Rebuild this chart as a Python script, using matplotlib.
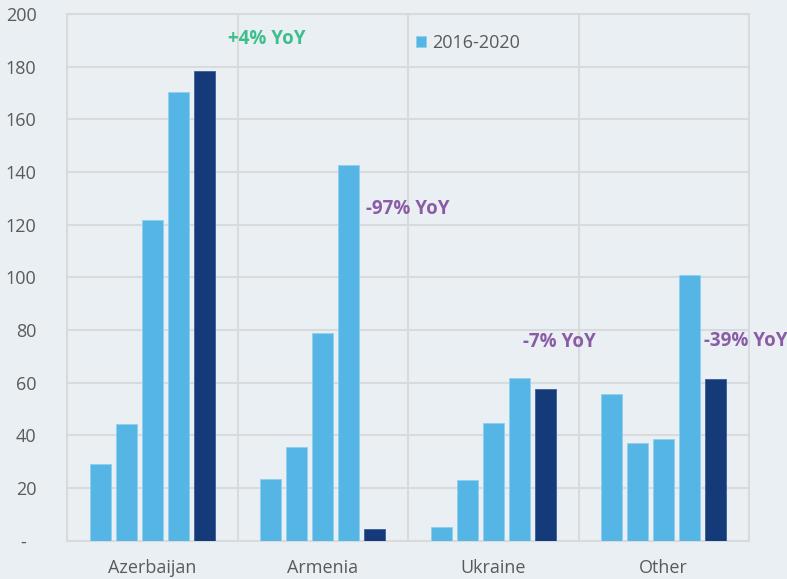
import matplotlib
matplotlib.use("Agg")
import matplotlib.pyplot as plt
import numpy as np

categories = ["Azerbaijan", "Armenia", "Ukraine", "Other"]
# Four light-blue bars (2016-2020) and one dark bar (latest year) per group
v2016 = [29, 23.3, 5.1, 55.7]
v2017 = [44.4, 35.4, 22.9, 37.0]
v2018 = [121.8, 78.9, 44.7, 38.5]
v2019 = [170.5, 142.7, 61.8, 100.9]
v2021 = [178.2, 4.2, 57.6, 61.4]

legend_label = "2016-2020"
yoy_labels = ["+4% YoY", "-97% YoY", "-7% YoY", "-39% YoY"]
yoy_colors = ["#3DBF8C", "#8A5CA6", "#8A5CA6", "#8A5CA6"]
yoy_pos = [(0.444, 190.5), (1.254, 126.0), (2.174, 75.4), (3.236, 75.8)]

yticks = [0, 20, 40, 60, 80, 100, 120, 140, 160, 180, 200]
ytick_labels = ["-  "] + [str(t) for t in yticks[1:]]

plt.rcParams['font.family'] = ['Open Sans', 'DejaVu Sans']

bg = "#E9EFF2"
light = "#55B6E6"
dark = "#143A7A"
grid = "#D8DADB"
txt = "#5A5A5A"

fig = plt.figure(figsize=(7.87, 5.79), dpi=100, facecolor=bg)
ax = fig.add_axes([67/787, (579-540.5)/579, (749-67)/787, (540.5-14)/579])
ax.set_facecolor(bg)

x = np.arange(len(categories))
step = 0.1525
w = 0.123
series = [v2016, v2017, v2018, v2019]
for i, s in enumerate(series):
    ax.bar(x + (i - 2) * step, s, width=w, color=light, edgecolor="#8FD0EE",
           linewidth=0.6, zorder=3, label=legend_label if i == 0 else None)
ax.bar(x + 2 * step, v2021, width=w, color=dark, edgecolor="#3D5E94",
       linewidth=0.6, zorder=3)

ax.set_xlim(-0.5, 3.5)
ax.set_ylim(0, 200)
ax.set_yticks(yticks)
ax.set_yticklabels(ytick_labels)
ax.set_xticks(x)
ax.set_xticklabels(categories)
ax.tick_params(axis='both', length=0, labelsize=13, colors=txt)
ax.tick_params(axis='y', pad=22)
ax.tick_params(axis='x', pad=13)

ax.yaxis.grid(True, color=grid, linewidth=1.5, zorder=0)
for b in [0.5, 1.5, 2.5]:
    ax.axvline(b, color=grid, linewidth=1.5, zorder=0)
for sp in ax.spines.values():
    sp.set_color(grid)
    sp.set_linewidth(1.5)

for lab, col, (px, py) in zip(yoy_labels, yoy_colors, yoy_pos):
    ax.text(px, py, lab, color=col, fontsize=13.5, fontweight='bold',
            ha='left', va='center', clip_on=False, zorder=5)

leg = ax.legend(loc='upper left', bbox_to_anchor=(0.511, 0.962), frameon=False,
                handlelength=0.6, handleheight=0.6, handletextpad=0.3,
                borderpad=0, borderaxespad=0, fontsize=13)
for t in leg.get_texts():
    t.set_color(txt)

fig.savefig("out.png", dpi=100, facecolor=bg)
